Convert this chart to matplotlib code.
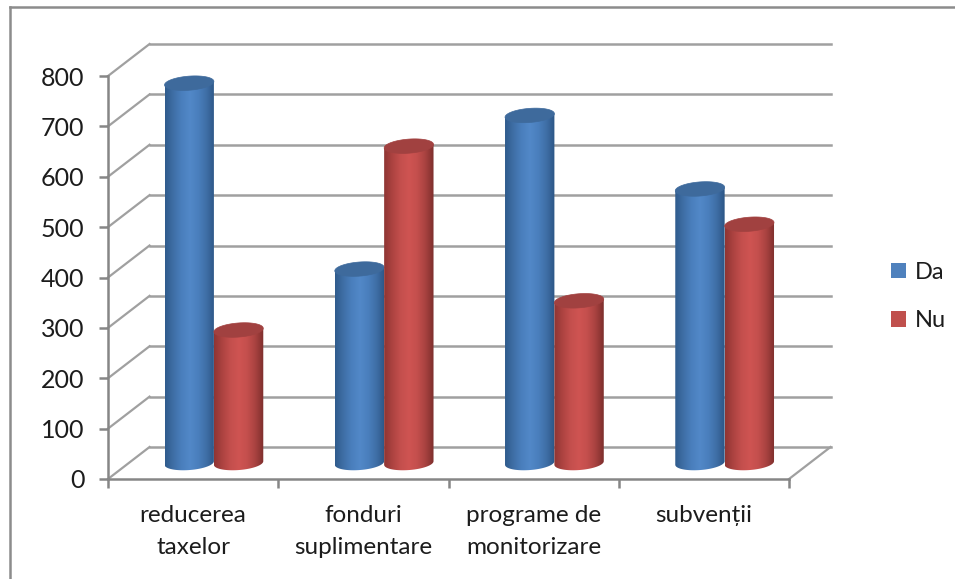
import numpy as np
import matplotlib
matplotlib.use('Agg')
import matplotlib.pyplot as plt
from matplotlib.colors import LinearSegmentedColormap
from matplotlib.lines import Line2D
from matplotlib.patches import Patch, PathPatch, Polygon
from matplotlib.path import Path

plt.rcParams['font.family'] = ['Lato', 'DejaVu Sans']

# Date
categories = ['reducerea\ntaxelor', 'fonduri\nsuplimentare', 'programe de\nmonitorizare', 'subvenții']
da_values = [754, 385, 690, 544]
nu_values = [264, 629, 322, 474]
y_ticks = [0, 100, 200, 300, 400, 500, 600, 700, 800]

W, H = 955, 579
TEXT = '#1c1c1c'
AXIS = '#868686'
GRID = '#a0a0a0'

# adancimea falsa 3D, in unitati de date
DX = 0.244
DY = 63.5
BAR_W = 0.29
ELL_H = 28
SKEW = 3.5

blue = LinearSegmentedColormap.from_list('b', ['#2f5b8c', '#3f6fa6', '#4a7fbd', '#5288c8', '#4a7fbd', '#3f6fa6', '#2c5585'])
red = LinearSegmentedColormap.from_list('r', ['#8f3533', '#ad4341', '#c44f4d', '#cf5452', '#c44f4d', '#a84240', '#7d2e2c'])


def ring(xc, yc, theta):
    # elipsa putin inclinata, ca in perspectiva graficului
    xs = xc + BAR_W / 2 * np.cos(theta)
    ys = yc + ELL_H / 2 * np.sin(theta) + SKEW * np.cos(theta)
    return list(zip(xs, ys))


def cylinder(ax, xc, value, cmap, top_color):
    left, right = xc - BAR_W / 2, xc + BAR_W / 2
    base, top = DY / 2, value + DY / 2
    lower = ring(xc, base, np.linspace(np.pi, 2 * np.pi, 40))
    verts = [(left, top - SKEW)] + lower + [(right, top + SKEW), (left, top - SKEW)]
    clip = PathPatch(Path(verts), transform=ax.transData, fc='none', ec='none')
    ax.add_patch(clip)
    grad = np.linspace(0, 1, 128).reshape(1, -1)
    im = ax.imshow(grad, cmap=cmap, aspect='auto', extent=(left, right, base - ELL_H, top + SKEW),
                   zorder=3, clip_on=True)
    im.set_clip_path(clip)
    cap = ring(xc, top, np.linspace(0, 2 * np.pi, 60))
    ax.add_patch(Polygon(cap, fc=top_color, ec=top_color, lw=0.5, zorder=3, clip_on=False))


fig = plt.figure(figsize=(W / 100, H / 100), dpi=100)
ax = fig.add_axes([108 / W, (H - 479) / H, 681 / W, 403 / H])
ax.patch.set_alpha(0)

# peretele din spate si liniile oblice
n = len(categories)
for t in y_ticks:
    ax.plot([DX, n + DX], [t + DY, t + DY], color=GRID, lw=1.8, clip_on=False, zorder=1)
    ax.plot([0, DX], [t, t + DY], color=GRID, lw=1.6, clip_on=False, zorder=1)
ax.plot([n, n + DX], [0, DY], color=GRID, lw=1.6, clip_on=False, zorder=1)

for i in range(n):
    xc = i + 0.5 + DX / 2
    cylinder(ax, xc - BAR_W / 2, da_values[i], blue, '#3e6a9c')
    cylinder(ax, xc + BAR_W / 2, nu_values[i], red, '#a14140')

ax.set_xlim(0, n)
ax.set_ylim(0, 800)
for s in ['top', 'right']:
    ax.spines[s].set_visible(False)
for s in ['left', 'bottom']:
    ax.spines[s].set_color(AXIS)
    ax.spines[s].set_linewidth(1.8)

ax.set_yticks(y_ticks)
ax.tick_params(axis='y', length=6.5, width=1.8, color=AXIS, labelsize=18, labelcolor=TEXT, pad=10.5)
ax.set_xticks(range(n + 1))
ax.set_xticklabels([])
ax.tick_params(axis='x', which='major', length=6.5, width=1.8, color=AXIS)
ax.set_xticks(np.arange(n) + 0.5, minor=True)
ax.set_xticklabels(categories, minor=True, fontsize=17.5, color=TEXT, linespacing=1.62)
ax.tick_params(axis='x', which='minor', length=0, pad=19)

handles = [Patch(fc='#4f81bd', label='Da'), Patch(fc='#c0504d', label='Nu')]
fig.legend(handles=handles, loc='center left', bbox_to_anchor=(885 / W, 1 - 296.5 / H), frameon=False,
           fontsize=17, labelcolor=TEXT, handlelength=0.64, handleheight=0.64, handletextpad=0.36,
           labelspacing=1.17, borderpad=0, borderaxespad=0.25)

# chenarul
fig.add_artist(Line2D([10 / W, 10 / W], [0, 1 - 7 / H], color='#8c8c8c', lw=1.8))
fig.add_artist(Line2D([10 / W, 1], [1 - 7 / H, 1 - 7 / H], color='#8c8c8c', lw=1.8))

fig.savefig('out.png', dpi=100)
